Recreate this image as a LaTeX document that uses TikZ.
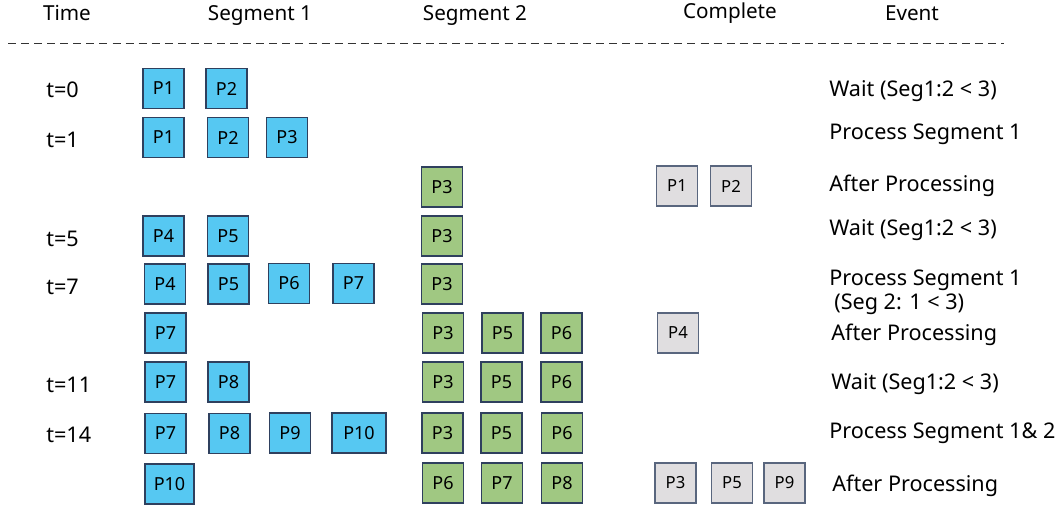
\documentclass[tikz,border=0pt]{standalone}
\usepackage{fontspec}
\setmainfont{Noto Sans}
\definecolor{segblue}{RGB}{86,200,242}
\definecolor{seggreen}{RGB}{160,200,130}
\definecolor{compgray}{RGB}{224,222,224}
\definecolor{boxline}{RGB}{47,64,94}
\tikzset{
  pbox/.style={draw=boxline, line width=1pt, minimum width=30.75pt, minimum height=30pt, inner sep=0pt, font=\fontsize{13.5}{15}\selectfont},
  bluebox/.style={pbox, fill=segblue},
  greenbox/.style={pbox, fill=seggreen},
  graybox/.style={pbox, fill=compgray, draw=boxline!80, font=\fontsize{12.5}{14}\selectfont},
  head/.style={font=\fontsize{15.5}{18}\selectfont},
  lbl/.style={font=\fontsize{16.2}{19}\selectfont, anchor=west, inner sep=0pt},
}
\begin{document}
\begin{tikzpicture}[x=0.75pt,y=-0.75pt]
\useasboundingbox (0,0) rectangle (1060,508);
% headers
\node[head] (hTime) at (67,13) {Time};
\node[head] (hS1) at (260,15) {Segment 1};
\node[head] (hS2) at (475,15) {Segment 2};
\node[head] (hC) at (730,13) {Complete};
\node[head] (hE) at (912,13) {Event};
\coordinate (dl) at (8,43);
\coordinate (dr) at (1004,43);
\draw[line width=0.75pt, dash pattern=on 6pt off 3.8pt, black!80] (dl) -- (dr);
% time labels
\node[lbl] (t0) at (46,90) {t=0};
\node[lbl] (t1) at (46,140) {t=1};
\node[lbl] (t5) at (46,239) {t=5};
\node[lbl] (t7) at (46,287) {t=7};
\node[lbl] (t11) at (46,385) {t=11};
\node[lbl] (t14) at (46,435) {t=14};
% events
\node[lbl] (e0) at (829,91) {Wait (Seg1:2 < 3)};
\node[lbl] (e1) at (829,134) {Process Segment 1};
\node[lbl] (e2) at (829,186) {After Processing};
\node[lbl] (e3) at (829,230) {Wait (Seg1:2 < 3)};
\node[lbl] (e4) at (829,280) {Process Segment 1};
\node[lbl] (e4b) at (834,304) {(Seg 2: 1 < 3)};
\node[lbl] (e5) at (831,335) {After Processing};
\node[lbl] (e6) at (831,384) {Wait (Seg1:2 < 3)};
\node[lbl] (e7) at (829,433) {Process Segment 1\& 2};
\node[lbl] (e8) at (832,486) {After Processing};
% row 0
\node[bluebox] (a1) at (163.5,88.5) {P1};
\node[bluebox] (a2) at (226.5,88.5) {P2};
% row 1
\node[bluebox] (b1) at (163.5,137.5) {P1};
\node[bluebox] (b2) at (228,137.5) {P2};
\node[bluebox] (b3) at (287,137.5) {P3};
% row 2
\node[greenbox] (c1) at (442,187) {P3};
\node[graybox] (c2) at (677,186) {P1};
\node[graybox] (c3) at (731,186) {P2};
% row 3
\node[bluebox] (d1) at (163.5,236) {P4};
\node[bluebox] (d2) at (228,236) {P5};
\node[greenbox] (d3) at (442,236) {P3};
% row 4
\node[bluebox] (f1) at (165,284) {P4};
\node[bluebox] (f2) at (228.5,284) {P5};
\node[bluebox] (f3) at (289,283.5) {P6};
\node[bluebox] (f4) at (353.5,283.5) {P7};
\node[greenbox] (f5) at (442,284) {P3};
% row 5
\node[bluebox] (g1) at (165.5,333) {P7};
\node[greenbox] (g2) at (443,333) {P3};
\node[greenbox] (g3) at (502.5,333) {P5};
\node[greenbox] (g4) at (561.5,333) {P6};
\node[graybox] (g5) at (678,333) {P4};
% row 6
\node[bluebox] (h1) at (165.5,382) {P7};
\node[bluebox] (h2) at (228.5,382) {P8};
\node[greenbox] (h3) at (443,382) {P3};
\node[greenbox] (h4) at (501.5,382) {P5};
\node[greenbox] (h5) at (561.5,382) {P6};
% row 7
\node[bluebox] (i1) at (165.5,433.5) {P7};
\node[bluebox] (i2) at (229.5,433.5) {P8};
\node[bluebox] (i3) at (290,433) {P9};
\node[bluebox, minimum width=40.5pt] (i4) at (359,433) {P10};
\node[greenbox] (i5) at (442.5,433) {P3};
\node[greenbox] (i6) at (501.5,433) {P5};
\node[greenbox] (i7) at (562,433) {P6};
% row 8
\node[bluebox, minimum width=36.75pt] (j1) at (169.5,484) {P10};
\node[greenbox] (j2) at (443,483) {P6};
\node[greenbox] (j3) at (502,483) {P7};
\node[greenbox] (j4) at (562,483) {P8};
\node[graybox] (j5) at (675.5,483) {P3};
\node[graybox] (j6) at (732,483) {P5};
\node[graybox] (j7) at (784.5,483) {P9};
\end{tikzpicture}
\end{document}
